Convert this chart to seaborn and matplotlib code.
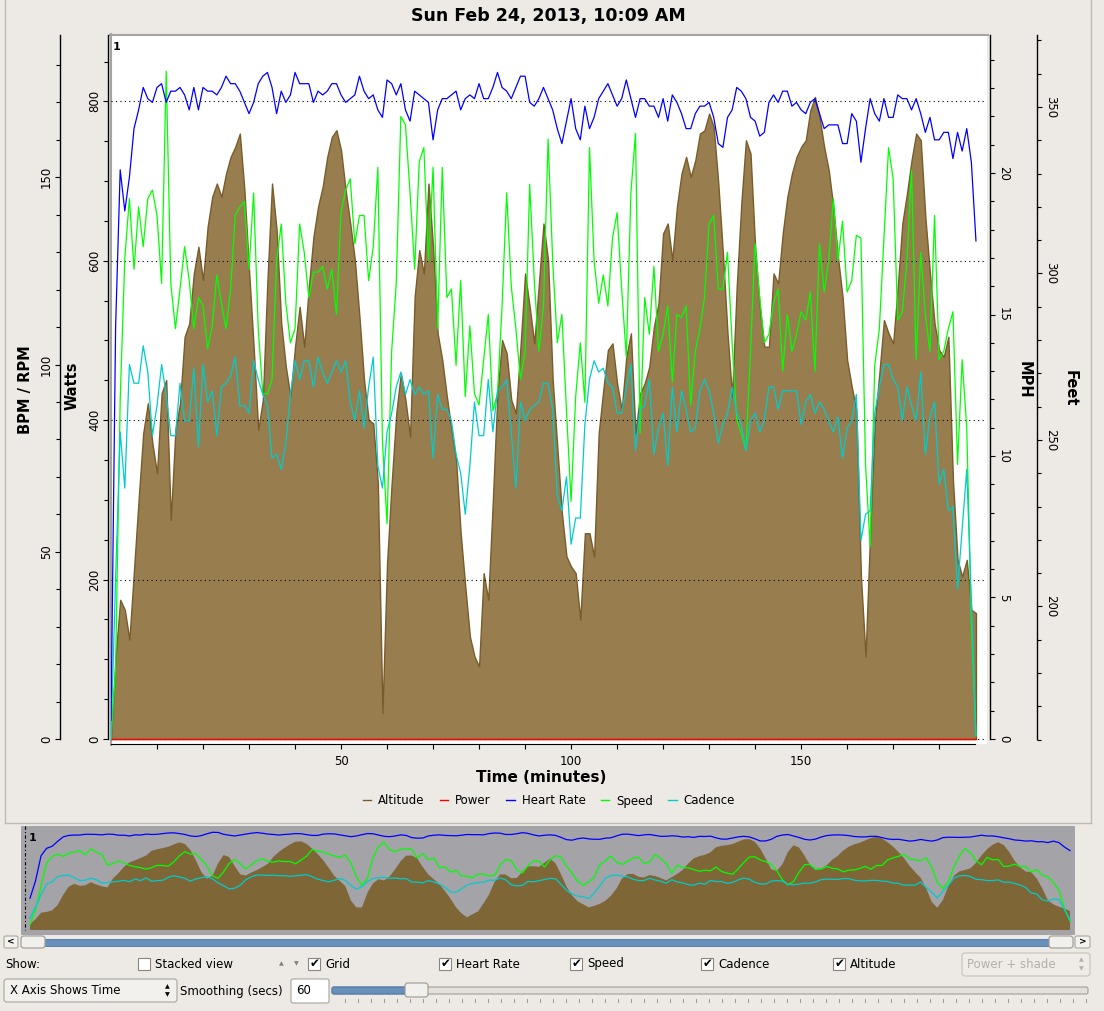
import numpy as np
import pandas as pd
import matplotlib
matplotlib.use("Agg")
import matplotlib.pyplot as plt
from matplotlib.patches import Rectangle, FancyBboxPatch
from matplotlib.lines import Line2D
from matplotlib.ticker import MultipleLocator, FixedLocator
import seaborn as sns

# ride data
minutes = np.arange(0, 189)

altitude_ft = [160, 185, 202, 199, 190, 211, 232, 252, 261, 249, 240, 264, 268, 226, 253, 261, 281, 285, 300, 308,
               298, 314, 323, 327, 323, 330, 335, 338, 342, 325, 301, 278, 253, 262, 298, 327, 313, 285, 272, 263,
               278, 290, 278, 296, 311, 320, 326, 335, 341, 343, 337, 325, 315, 304, 287, 268, 256, 255, 237, 168,
               213, 237, 258, 270, 262, 251, 293, 307, 300, 327, 308, 282, 274, 263, 253, 244, 222, 206, 191, 185,
               182, 210, 202, 232, 264, 280, 276, 262, 258, 278, 300, 290, 279, 297, 315, 304, 268, 248, 228, 215,
               212, 210, 196, 222, 222, 215, 252, 265, 277, 279, 267, 259, 275, 282, 252, 264, 267, 272, 284, 291,
               312, 315, 304, 320, 330, 335, 329, 334, 342, 343, 348, 344, 327, 306, 282, 263, 296, 321, 340, 336,
               308, 290, 278, 278, 300, 297, 312, 323, 330, 335, 338, 340, 349, 353, 347, 338, 331, 320, 305, 293,
               274, 266, 259, 209, 185, 222, 255, 270, 286, 282, 279, 296, 315, 324, 334, 342, 340, 317, 300, 285,
               277, 275, 281, 238, 214, 209, 214, 199, 198]

heart_rate = [5, 110, 152, 141, 150, 163, 168, 174, 171, 170, 174, 175, 170, 173, 173, 174, 172, 168, 174, 168,
              174, 173, 173, 172, 174, 177, 175, 175, 173, 170, 167, 170, 175, 177, 178, 174, 167, 173, 170, 172,
              178, 175, 175, 175, 170, 173, 172, 173, 175, 175, 172, 170, 171, 172, 177, 173, 171, 172, 168, 166,
              176, 175, 172, 175, 168, 165, 173, 172, 171, 170, 160, 168, 171, 171, 172, 173, 168, 171, 172, 171,
              175, 171, 171, 174, 178, 174, 173, 171, 174, 177, 177, 170, 169, 171, 174, 171, 168, 163, 159, 165,
              171, 163, 160, 169, 163, 166, 171, 173, 175, 172, 169, 171, 176, 171, 166, 171, 171, 169, 169, 166,
              171, 165, 172, 170, 167, 163, 163, 167, 169, 169, 170, 166, 159, 158, 166, 168, 174, 173, 171, 166,
              165, 161, 162, 170, 172, 170, 173, 173, 169, 170, 168, 167, 170, 171, 167, 163, 164, 164, 164, 159,
              159, 167, 165, 154, 163, 171, 167, 165, 171, 166, 166, 172, 171, 171, 168, 171, 167, 162, 166, 160,
              160, 162, 162, 155, 162, 157, 163, 154, 133]

speed_mph = [0, 2.5, 12, 17, 19.1, 16.6, 18.8, 17.4, 19.1, 19.4, 18.5, 16.1, 23.6, 16.1, 14.5, 15.9, 17.4, 16.2,
             14.5, 15.6, 15.3, 13.8, 14.6, 16.4, 15.4, 14.5, 15.9, 18.5, 18.8, 19, 16.6, 19.3, 14.5, 12.2, 12.2,
             12.7, 16.9, 18.2, 15.4, 14, 14.5, 18.2, 17.2, 15.6, 16.5, 16.5, 16.7, 15.9, 16.6, 15, 18.6, 19.4, 19.8,
             17.5, 18.5, 18.5, 16.2, 17.4, 20.2, 10.5, 7.6, 13.7, 16.1, 22, 21.7, 19.3, 16.6, 20.4, 20.9, 16.9,
             20.2, 14.5, 20.2, 15.6, 15.9, 13.2, 16.2, 12.1, 14.6, 12.2, 11.8, 13.4, 15, 11.6, 12.2, 15.3, 19.3, 16,
             14.5, 12.7, 13.7, 19.6, 16.2, 13.7, 15.3, 21.2, 16.9, 14, 15, 11.6, 8.4, 12.1, 14, 11.9, 20.9, 16.9,
             15.4, 16.4, 15.3, 17.7, 18.6, 15.9, 13.5, 19.3, 21.4, 10.8, 15.6, 14.3, 16.7, 13.7, 14.3, 15.3, 12.6,
             15, 14.9, 15.3, 11.8, 13.7, 14.5, 15.6, 18.2, 18.5, 15.9, 15.9, 17.2, 14, 11.3, 10.8, 10.2, 13.7, 17.5,
             15.6, 14, 14.3, 15.4, 15.9, 13, 15, 13.7, 14.3, 15.1, 14.8, 15.8, 13, 17.5, 15.8, 16.9, 19.1, 16.9,
             18.3, 15.8, 16.2, 17.8, 17.7, 9.7, 6.8, 13.2, 14.5, 17.7, 20.9, 19.8, 14.8, 15.1, 16.9, 20.1, 13.4,
             17.2, 15, 13.7, 18.5, 13.4, 13.7, 14.5, 15.1, 9.7, 13.4, 11, 4.1, 0.1]

cadence_rpm = [0, 43, 82, 67, 100, 95, 95, 105, 98, 81, 89, 100, 92, 81, 81, 95, 85, 85, 99, 78,
               100, 90, 93, 81, 94, 95, 97, 102, 89, 89, 87, 101, 96, 92, 89, 75, 76, 72, 79, 92,
               101, 96, 101, 101, 94, 102, 98, 95, 98, 101, 98, 101, 90, 85, 93, 83, 94, 102, 73, 67,
               82, 87, 94, 98, 92, 96, 92, 94, 92, 93, 75, 92, 88, 88, 85, 76, 71, 60, 73, 90,
               81, 81, 96, 82, 93, 94, 96, 82, 67, 90, 85, 88, 89, 90, 95, 95, 88, 65, 61, 70,
               52, 59, 59, 84, 96, 101, 98, 99, 95, 94, 87, 87, 94, 100, 77, 88, 89, 96, 76, 83,
               87, 73, 94, 82, 93, 88, 82, 83, 93, 96, 93, 87, 79, 84, 87, 94, 87, 84, 77, 85,
               87, 82, 85, 94, 94, 88, 93, 93, 93, 93, 84, 90, 92, 87, 90, 88, 85, 82, 86, 75,
               83, 85, 92, 53, 60, 61, 87, 94, 100, 100, 96, 94, 85, 94, 89, 85, 98, 76, 86, 90,
               68, 72, 61, 62, 40, 56, 72, 37, 1]

# power was not recorded: flat line at zero
power_time = [0, 188]
power_watts = [0, 0]

time_labels = [50, 100, 150]
time_minor = [10, 20, 30, 40, 60, 70, 80, 90, 110, 120, 130, 140, 160, 170, 180]

title = "Sun Feb 24, 2013, 10:09 AM"
series_names = ["Altitude", "Power", "Heart Rate", "Speed", "Cadence"]
show_boxes = [("Grid", True, 308), ("Heart Rate", True, 439), ("Speed", True, 570),
              ("Cadence", True, 701), ("Altitude", True, 833)]

BG = "#edeae5"
ALT_FILL = "#987e4e"
ALT_EDGE = "#7a5c2a"
HR_C = "#0000ff"
SPD_C = "#00ff00"
CAD_C = "#00cccc"
PWR_C = "#ff0000"

W, H = 1104, 1011
fig = plt.figure(figsize=(W / 100, H / 100), dpi=100, facecolor=BG)


def R(x0, y0, x1, y1):
    return [x0 / W, 1 - y1 / H, (x1 - x0) / W, (y1 - y0) / H]


def txt(x, y, s, size=8.5, **kw):
    kw.setdefault("va", "center")
    return fig.text(x / W, 1 - y / H, s, fontsize=size, **kw)


def box(x0, y0, x1, y1, fc, ec, lw=0.8, r=0, z=3):
    if r:
        p = FancyBboxPatch((x0 / W, 1 - y1 / H), (x1 - x0) / W, (y1 - y0) / H,
                           boxstyle="round,pad=0,rounding_size=%f" % (r / W),
                           transform=fig.transFigure, fc=fc, ec=ec, lw=lw, zorder=z)
    else:
        p = Rectangle((x0 / W, 1 - y1 / H), (x1 - x0) / W, (y1 - y0) / H,
                      transform=fig.transFigure, fc=fc, ec=ec, lw=lw, zorder=z)
    fig.add_artist(p)


def hline(x0, x1, y, color, lw=1.0, **kw):
    fig.add_artist(Line2D([x0 / W, x1 / W], [1 - y / H, 1 - y / H], transform=fig.transFigure,
                          color=color, lw=lw, **kw))


def vline(x, y0, y1, color, lw=1.0, **kw):
    fig.add_artist(Line2D([x / W, x / W], [1 - y0 / H, 1 - y1 / H], transform=fig.transFigure,
                          color=color, lw=lw, **kw))


# ---------------------------------------------------------------- main plot
main = R(111, 35, 987, 744)
ax_alt = fig.add_axes(main, facecolor="white", zorder=1)
ax_w = fig.add_axes(main, facecolor="none", zorder=2)
ax_spd = fig.add_axes(main, facecolor="none", zorder=3)
ax_hr = fig.add_axes(main, facecolor="none", zorder=4)

alt_base = 160.2
ax_alt.fill_between(minutes, altitude_ft, alt_base, facecolor=ALT_FILL, edgecolor=ALT_EDGE, lw=1.0)
for v in [0, 200, 400, 600, 800]:
    ax_w.axhline(v, color="black", lw=0.8, ls=(0, (1, 3)), zorder=0.5)
sns.lineplot(x=power_time, y=power_watts, ax=ax_w, color=PWR_C, linewidth=1.0, legend=False)
sns.lineplot(x=minutes, y=speed_mph, ax=ax_spd, color=SPD_C, linewidth=0.9, legend=False)
sns.lineplot(x=minutes, y=cadence_rpm, ax=ax_hr, color=CAD_C, linewidth=0.9, legend=False)
sns.lineplot(x=minutes, y=heart_rate, ax=ax_hr, color=HR_C, linewidth=0.9, legend=False)

limits = {ax_alt: (158.7, 371.6), ax_w: (-6.3, 883.3), ax_spd: (-0.18, 24.88), ax_hr: (-1.34, 188.0)}
steps = {ax_alt: (50, 10), ax_w: (200, 50), ax_spd: (5, 1), ax_hr: (50, 10)}
sides = {ax_alt: ("right", (1037 - 111) / 876, alt_base),
         ax_w: ("left", -3 / 876, 0),
         ax_spd: ("right", (990 - 111) / 876, 0),
         ax_hr: ("left", (60 - 111) / 876, 0)}

for a in [ax_alt, ax_w, ax_spd, ax_hr]:
    a.set_xlim(0, 190.4)
    a.set_ylim(*limits[a])
    a.set_xlabel("")
    a.set_ylabel("")
    for s in a.spines.values():
        s.set_visible(False)
    side, pos, lo = sides[a]
    sp = a.spines[side]
    sp.set_visible(True)
    sp.set_position(("axes", pos))
    sp.set_bounds(lo, limits[a][1])
    sp.set_linewidth(1.0)
    a.yaxis.set_ticks_position(side)
    a.yaxis.set_major_locator(MultipleLocator(steps[a][0]))
    a.yaxis.set_minor_locator(MultipleLocator(steps[a][1]))
    a.tick_params(axis="y", which="major", length=3.6, width=0.8, labelsize=8.5, pad=1.5,
                  labelrotation=90 if side == "left" else -90)
    a.tick_params(axis="y", which="minor", length=2.9, width=0.8)
    if a is not ax_w:
        a.tick_params(axis="x", which="both", bottom=False, labelbottom=False)
    plt.setp(a.get_yticklabels(), va="center")

ax_w.spines["bottom"].set_visible(True)
ax_w.spines["bottom"].set_bounds(0, 187.8)
ax_w.xaxis.set_major_locator(FixedLocator(time_labels))
ax_w.xaxis.set_minor_locator(FixedLocator(time_minor))
ax_w.tick_params(axis="x", which="major", length=3.6, width=0.8, labelsize=8.5, pad=4)
ax_w.tick_params(axis="x", which="minor", length=3.6, width=0.8)

# canvas frame
hline(110, 988, 34.5, "#a4a4a4", lw=1.5)
vline(110.5, 34, 745, "#a4a4a4", lw=1.5)
txt(113, 47, "1", size=8, weight="bold", ha="left")

txt(548, 16, title, size=12.5, weight="bold", ha="center")
txt(541, 777, "Time (minutes)", size=11, weight="bold", ha="center")
txt(26, 390, "BPM / RPM", size=10.5, weight="bold", ha="center", rotation=90)
txt(72, 386, "Watts", size=10.5, weight="bold", ha="center", rotation=90)
txt(1024, 380, "MPH", size=10.5, weight="bold", ha="center", rotation=-90)
txt(1070, 388, "Feet", size=10.5, weight="bold", ha="center", rotation=-90)

handles = [Line2D([], [], color=c, lw=1.0) for c in [ALT_EDGE, PWR_C, HR_C, SPD_C, CAD_C]]
fig.legend(handles, series_names, loc="center", bbox_to_anchor=(549 / W, 1 - 801 / H), ncol=5,
           frameon=False, fontsize=8.5, handlelength=0.7, handletextpad=0.6, columnspacing=1.3)

# outer panel frame
vline(4.5, 0, 823, "#bdb9b4")
vline(1090.5, 0, 823, "#bdb9b4")
hline(4.5, 1090.5, 823, "#bdb9b4")

# ---------------------------------------------------------------- overview strip
ov = R(21, 826, 1075, 935)
ov_alt = fig.add_axes(ov, facecolor="#a3a3a8", zorder=1)
ov_spd = fig.add_axes(ov, facecolor="none", zorder=2)
ov_hr = fig.add_axes(ov, facecolor="none", zorder=3)


def smooth(v):
    return pd.Series(v, dtype=float).rolling(3, center=True, min_periods=1).mean()


ov_alt.fill_between(minutes, smooth(altitude_ft), alt_base, facecolor="#7f6637", edgecolor="none")
sns.lineplot(x=minutes, y=smooth(speed_mph), ax=ov_spd, color=SPD_C, linewidth=0.9, legend=False)
sns.lineplot(x=minutes, y=smooth(cadence_rpm), ax=ov_hr, color=CAD_C, linewidth=0.9, legend=False)
sns.lineplot(x=minutes, y=smooth(heart_rate), ax=ov_hr, color=HR_C, linewidth=0.9, legend=False)
ov_alt.set_ylim(150.0, 371.6)
ov_spd.set_ylim(-1.2, 24.88)
ov_hr.set_ylim(-9.0, 188.0)
for a in [ov_alt, ov_spd, ov_hr]:
    a.set_xlim(-1.63, 188.9)
for a in [ov_spd, ov_hr]:
    a.set_axis_off()
ov_alt.set_xticks([])
ov_alt.set_yticks([])
ov_alt.set_xlabel("")
ov_alt.set_ylabel("")
for s in ov_alt.spines.values():
    s.set_visible(False)
vline(25, 826, 930, "black", lw=0.8, ls=(0, (3, 2, 1, 2)), zorder=5)
txt(29, 838, "1", size=8, weight="bold", ha="left", zorder=5)

# ---------------------------------------------------------------- scrollbar
box(44, 939, 1050, 946, "#6890bd", "#4f78a5", lw=0.6)
box(4, 936, 18, 948, "#f4f2ef", "#a9a59f", r=2)
txt(11, 942, "<", size=6.5, weight="bold", ha="center")
box(1075, 936, 1090, 948, "#f4f2ef", "#a9a59f", r=2)
txt(1082.5, 942, ">", size=6.5, weight="bold", ha="center")
box(21, 936, 45, 948, "#f2f0ec", "#9c9890", r=3)
box(1049, 936, 1073, 948, "#f2f0ec", "#9c9890", r=3)

# ---------------------------------------------------------------- controls row 1
txt(5, 964, "Show:", ha="left")
box(138, 958, 150, 970, "white", "#8a867f")
txt(155, 964, "Stacked view", ha="left")
txt(281, 964, "\u25b2", size=4.5, color="#808080", ha="center")
txt(296, 964, "\u25bc", size=4.5, color="#808080", ha="center")
for label, checked, x0 in show_boxes:
    box(x0, 958, x0 + 12, 970, "white", "#8a867f")
    if checked:
        txt(x0 + 6.5, 963.5, "\u2714", size=8.5, ha="center")
    txt(x0 + 17, 964, label, ha="left")

box(962, 953, 1090, 976, "#efece8", "#c5c1bb", r=3)
txt(967, 965, "Power + shade", color="#b3b0ab", ha="left")
vline(1071, 957, 972, "#cfcbc5", lw=0.8)
txt(1081, 960, "\u25b2", size=4.5, color="#b3b0ab", ha="center")
txt(1081, 969, "\u25bc", size=4.5, color="#b3b0ab", ha="center")

# ---------------------------------------------------------------- controls row 2
box(4, 979, 177, 1002, "#f3f1ee", "#a8a49e", r=3)
txt(10, 991, "X Axis Shows Time", ha="left")
vline(157, 983, 998, "#c2beb8", lw=0.8)
txt(167, 986.5, "\u25b2", size=4.5, ha="center")
txt(167, 995, "\u25bc", size=4.5, ha="center")
txt(180, 991, "Smoothing (secs)", ha="left")
box(291, 979, 329, 1003, "white", "#a8a49e", r=2)
txt(296, 991, "60", ha="left")
box(332, 987, 1088, 994, "#e3dfda", "#a29e98", r=2)
box(332, 987, 410, 994, "#6890bd", "#4f78a5", r=2, z=4)
box(405, 983, 428, 997, "#f2f0ec", "#9c9890", r=3, z=5)
for x in range(345, 1088, 13):
    vline(x, 999, 1002, "#8c8882", lw=0.6)

fig.savefig("out.png", dpi=100, facecolor=BG)
